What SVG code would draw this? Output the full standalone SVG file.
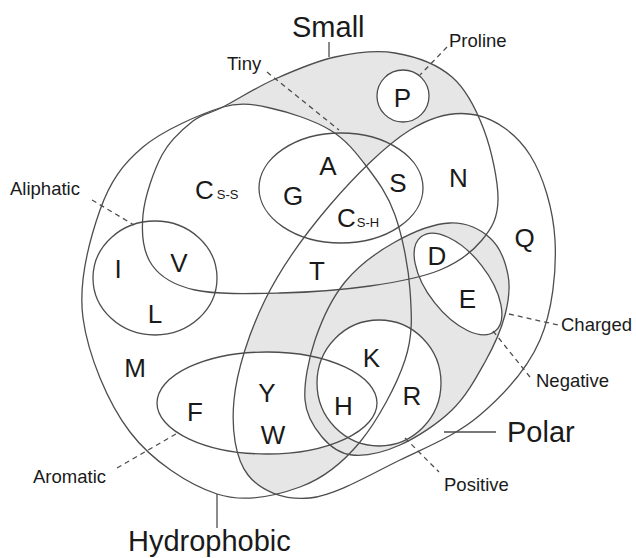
<svg xmlns="http://www.w3.org/2000/svg" xmlns:xlink="http://www.w3.org/1999/xlink" width="636" height="558" viewBox="0 0 636 558">
<style>
.outline{fill:none;stroke:#4d4d4d;stroke-width:1.3}
.shade{fill:#e6e6e6}
.lead{fill:none;stroke:#4d4d4d;stroke-width:1.3}
.dash{fill:none;stroke:#4d4d4d;stroke-width:1.3;stroke-dasharray:5 4}
.big{font-family:"Liberation Sans",Arial,sans-serif;font-size:29px;fill:#1a1a1a}
.lab{font-family:"Liberation Sans",Arial,sans-serif;font-size:18.5px;fill:#1a1a1a}
.aa{font-family:"Liberation Sans",Arial,sans-serif;font-size:26px;fill:#1a1a1a;text-anchor:middle}
.sub{font-size:13px}
</style>
<defs>
<path id="s-hydro" d="M223,107 C240,102 255,104 270,108 C287.8,111.8 313.8,120.2 330,130 C346.2,139.8 356.2,152.8 367,167 C377.8,181.2 387.8,194.5 395,215 C402.2,235.5 408.3,265.8 410,290 C411.7,314.2 413.3,334.7 405,360 C396.7,385.3 377.5,420.8 360,442 C342.5,463.2 323.8,478.3 300,487 C276.2,495.7 245.3,503.2 217,494 C188.7,484.8 152.3,461.3 130,432 C107.7,402.7 88,355 83,318 C78,281 90,238.5 100,210 C110,181.5 122.5,164.2 143,147 C163.5,129.8 201.8,113.5 223,107 Z"/>
<path id="s-small" d="M223,107 C236.7,100 256.3,87.3 275,79 C293.7,70.7 315,61.3 335,57 C355,52.7 375.5,49.7 395,53 C414.5,56.3 437.2,64.2 452,77 C466.8,89.8 476.3,109.5 484,130 C491.7,150.5 498.3,181.7 498,200 C497.7,218.3 491.7,228.3 482,240 C472.3,251.7 458.7,262.3 440,270 C421.3,277.7 396.7,282.2 370,286 C343.3,289.8 309.2,292.3 280,293 C250.8,293.7 216.3,294.7 195,290 C173.7,285.3 160.7,277.5 152,265 C143.3,252.5 141.3,233.3 143,215 C144.7,196.7 153.7,170.7 162,155 C170.3,139.3 182.8,129 193,121 C203.2,113 209.3,114 223,107 Z"/>
<path id="s-polar" d="M476,115 C496,119.2 516.8,134.2 530,155 C543.2,175.8 553.3,209.2 555,240 C556.7,270.8 552.5,310.8 540,340 C527.5,369.2 503.3,395 480,415 C456.7,435 428.3,446.2 400,460 C371.7,473.8 335.3,495.5 310,498 C284.7,500.5 260.7,491.3 248,475 C235.3,458.7 231.2,429.2 234,400 C236.8,370.8 249,332.5 265,300 C281,267.5 305.8,233.3 330,205 C354.2,176.7 385.7,145 410,130 C434.3,115 456,110.8 476,115 Z"/>
<path id="s-charged" d="M450,223 C465.8,222.3 480.3,229.3 490,238 C499.7,246.7 505.5,262.2 508,275 C510.5,287.8 508.8,300.5 505,315 C501.2,329.5 493.8,346.2 485,362 C476.2,377.8 466.2,396.2 452,410 C437.8,423.8 416.7,437.5 400,445 C383.3,452.5 365,456.3 352,455 C339,453.7 329.8,446.2 322,437 C314.2,427.8 306.2,416.2 305,400 C303.8,383.8 308.3,359.7 315,340 C321.7,320.3 331.7,298.3 345,282 C358.3,265.7 377.5,251.8 395,242 C412.5,232.2 434.2,223.7 450,223 Z"/>
<ellipse id="s-tiny" cx="341" cy="188" rx="82" ry="55"/>
<ellipse id="s-aliph" cx="155" cy="278" rx="62" ry="57"/>
<ellipse id="s-arom" cx="267" cy="403" rx="110" ry="51"/>
<ellipse id="s-pos" cx="379" cy="383" rx="62" ry="63"/>
<ellipse id="s-neg" cx="0" cy="0" rx="60" ry="30" transform="translate(458,284) rotate(52)"/>
<circle id="s-pro" cx="403" cy="96" r="26"/>
<clipPath id="c-small"><use xlink:href="#s-small"/></clipPath>
<clipPath id="c-polar"><use xlink:href="#s-polar"/></clipPath>
<clipPath id="c-hydro"><use xlink:href="#s-hydro"/></clipPath>
<mask id="m1" maskUnits="userSpaceOnUse" x="0" y="0" width="636" height="558"><rect width="636" height="558" fill="#fff"/><use xlink:href="#s-hydro" fill="#000"/><use xlink:href="#s-polar" fill="#000"/><use xlink:href="#s-pro" fill="#000"/></mask>
<mask id="m2" maskUnits="userSpaceOnUse" x="0" y="0" width="636" height="558"><rect width="636" height="558" fill="#fff"/><use xlink:href="#s-small" fill="#000"/><use xlink:href="#s-arom" fill="#000"/><use xlink:href="#s-pos" fill="#000"/></mask>
<mask id="m3" maskUnits="userSpaceOnUse" x="0" y="0" width="636" height="558"><rect width="636" height="558" fill="#fff"/><use xlink:href="#s-pos" fill="#000"/><use xlink:href="#s-neg" fill="#000"/></mask>
</defs>
<rect width="636" height="558" fill="#fff"/>
<g id="shading">
<g clip-path="url(#c-small)"><rect width="636" height="558" class="shade" mask="url(#m1)"/></g>
<g clip-path="url(#c-polar)"><g clip-path="url(#c-hydro)"><rect width="636" height="558" class="shade" mask="url(#m2)"/></g></g>
<use xlink:href="#s-charged" class="shade" mask="url(#m3)"/>
</g>
<g id="hydrophobic"><use xlink:href="#s-hydro" class="outline"/><text class="big" x="128" y="551">Hydrophobic</text></g>
<g id="small"><use xlink:href="#s-small" class="outline"/><text class="big" x="292" y="37">Small</text></g>
<g id="polar"><use xlink:href="#s-polar" class="outline"/><text class="big" x="507" y="442">Polar</text></g>
<g id="tiny"><use xlink:href="#s-tiny" class="outline"/><text class="lab" x="227" y="70">Tiny</text></g>
<g id="aliphatic"><use xlink:href="#s-aliph" class="outline"/><text class="lab" x="10" y="195">Aliphatic</text></g>
<g id="aromatic"><use xlink:href="#s-arom" class="outline"/><text class="lab" x="33" y="483">Aromatic</text></g>
<g id="charged"><use xlink:href="#s-charged" class="outline"/><text class="lab" x="561" y="331">Charged</text></g>
<g id="positive"><use xlink:href="#s-pos" class="outline"/><text class="lab" x="444" y="491">Positive</text></g>
<g id="negative"><use xlink:href="#s-neg" class="outline"/><text class="lab" x="536" y="387">Negative</text></g>
<g id="proline"><use xlink:href="#s-pro" class="outline"/><text class="lab" x="449" y="47">Proline</text></g>
<g id="connectors">
<line class="lead" x1="329" y1="42" x2="329" y2="57"/>
<line class="lead" x1="217" y1="494" x2="217" y2="528"/>
<line class="lead" x1="444" y1="432" x2="496" y2="432"/>
<line class="dash" x1="267" y1="72" x2="339" y2="130"/>
<line class="dash" x1="447" y1="47" x2="420" y2="75"/>
<line class="dash" x1="92" y1="200" x2="134" y2="225"/>
<line class="dash" x1="117" y1="468" x2="176" y2="434"/>
<line class="dash" x1="509" y1="314" x2="558" y2="325"/>
<line class="dash" x1="493" y1="331" x2="530" y2="377"/>
<line class="dash" x1="405" y1="438" x2="439" y2="472"/>
</g>
<g id="residues">
<text id="aa-P" class="aa" x="402.5" y="107">P</text>
<text id="aa-A" class="aa" x="328" y="175">A</text>
<text id="aa-G" class="aa" x="293" y="205">G</text>
<text id="aa-S" class="aa" x="398" y="192">S</text>
<text id="aa-N" class="aa" x="458.5" y="187">N</text>
<text id="aa-T" class="aa" x="317" y="280">T</text>
<text id="aa-D" class="aa" x="437" y="265">D</text>
<text id="aa-E" class="aa" x="467.5" y="308">E</text>
<text id="aa-Q" class="aa" x="524.5" y="247">Q</text>
<text id="aa-I" class="aa" x="118" y="278">I</text>
<text id="aa-V" class="aa" x="179" y="272">V</text>
<text id="aa-L" class="aa" x="155" y="323">L</text>
<text id="aa-M" class="aa" x="135" y="377">M</text>
<text id="aa-F" class="aa" x="195" y="421">F</text>
<text id="aa-Y" class="aa" x="267" y="402">Y</text>
<text id="aa-W" class="aa" x="273" y="444">W</text>
<text id="aa-K" class="aa" x="371.5" y="367">K</text>
<text id="aa-H" class="aa" x="343.5" y="415">H</text>
<text id="aa-R" class="aa" x="412" y="405">R</text>
<text id="aa-Css" class="lab" x="195" y="199" style="font-size:26px">C<tspan class="sub" dx="3">S-S</tspan></text>
<text id="aa-Csh" class="lab" x="337" y="227" style="font-size:26px">C<tspan class="sub" dx="1">S-H</tspan></text>
</g>
</svg>
